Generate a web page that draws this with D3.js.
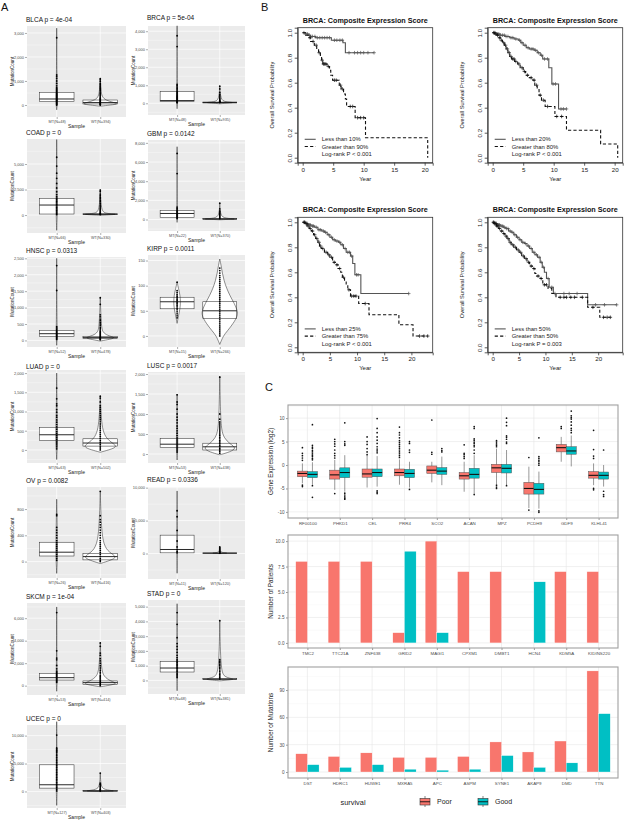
<!DOCTYPE html>
<html><head><meta charset="utf-8">
<script src="https://cdn.jsdelivr.net/npm/d3@7"></script>
<style>body{margin:0;background:#fff}svg{display:block;font-family:"Liberation Sans",Arial,sans-serif}</style>
</head><body><svg id="c" width="624" height="822"></svg>
<script>
// ---------------- Panel A data ----------------
const aCancers = ["BLCA","BRCA","COAD","GBM","HNSC","KIRP","LUAD","LUSC","OV","READ","SKCM","STAD","UCEC"];
const aPvals = ["4e-04","5e-04","0","0.0142","0.0313","0.0011","0","0.0017","0.0082","0.0336","1e-04","0","0"];
const aMtN = [48,48,66,22,52,15,63,53,26,11,53,68,127];
const aWtN = [394,935,330,370,478,266,502,438,416,120,414,381,403];
const aYTicks = [[0,1000,2000,3000],[0,1000,2000,3000,4000],[0,2500,5000],[0,2000,4000,6000,8000],
  [0,500,1000,1500,2000,2500],[0,50,100,150],[0,500,1000,1500,2000],[0,500,1000,1500,2000],
  [0,400,800],[0,5000,10000],[0,2000,4000,6000],[0,1000,2000,3000,4000,5000],[0,5000,10000]];
const aYDomain = [[-500,3290],[-650,4290],[-1760,7450],[-1200,8300],[-200,2540],[-22,161],[-340,2080],
  [-225,2050],[-250,1136],[-3870,10100],[-830,7350],[-920,5450],[-2960,11900]];
const aMtBox = [[137,250,530],[100,150,650],[100,980,1640],[200,630,930],[120,205,305],[54,68,77],[250,395,590],
  [160,245,390],[85,143,295],[100,610,2790],[500,710,1100],[570,840,1280],[600,1200,4770]];
const aWtBox = [[42,100,208],[20,40,70],[50,80,120],[30,60,100],[60,85,120],[35,50,68],[100,180,290],
  [100,180,270],[26,76,122],[20,50,90],[120,270,420],[50,90,140],[50,100,200]];
const aMtViolin = [
  [[-200,0],[0,0.03],[250,0.05],[600,0.03],[1500,0.01],[3200,0]],
  [[-300,0],[100,0.04],[500,0.03],[1500,0.01],[4300,0]],
  [[-1500,0],[0,0.03],[1000,0.04],[2500,0.02],[7400,0]],
  [[-300,0],[300,0.04],[900,0.03],[2000,0.01],[7600,0]],
  [[-150,0],[150,0.04],[400,0.02],[1500,0.005],[2500,0]],
  [[25,0],[40,0.08],[55,0.18],[68,0.2],[80,0.18],[95,0.08],[107,0]],
  [[-250,0],[150,0.04],[400,0.06],[800,0.03],[1500,0.01],[2000,0]],
  [[-150,0],[200,0.05],[500,0.03],[1500,0]],
  [[-180,0],[100,0.05],[300,0.04],[700,0.02],[950,0]],
  [[-3000,0],[0,0.03],[3000,0.02],[9500,0]],
  [[-500,0],[600,0.04],[2000,0.01],[7000,0]],
  [[-700,0],[800,0.04],[2000,0.015],[5200,0]],
  [[-2500,0],[500,0.03],[5000,0.02],[12500,0]]];
const aWtViolin = [
  [[-50,0],[0,0.6],[40,1.05],[100,0.8],[200,0.3],[350,0.1],[600,0.04],[1100,0]],
  [[-30,0],[20,0.5],[40,0.9],[80,0.3],[200,0.05],[950,0]],
  [[-30,0],[40,0.7],[80,1.0],[150,0.3],[400,0.05],[2500,0]],
  [[-30,0],[30,0.7],[60,1.0],[120,0.3],[400,0.03],[1700,0]],
  [[-20,0],[40,0.6],[85,0.9],[150,0.4],[250,0.15],[400,0.06],[1300,0]],
  [[-17,0],[0,0.2],[10,0.45],[25,0.8],[40,1.05],[50,1.05],[65,0.85],[80,0.6],[95,0.4],[110,0.25],[125,0.15],[140,0.08],[153,0]],
  [[-60,0],[0,0.5],[80,1.0],[180,0.7],[300,0.35],[500,0.15],[800,0.06],[1400,0]],
  [[-20,0],[50,0.6],[150,1.0],[250,0.6],[400,0.25],[600,0.1],[1000,0.04],[1950,0]],
  [[-30,0],[20,0.6],[70,1.0],[140,0.5],[250,0.2],[500,0.06],[1070,0]],
  [[-20,0],[30,0.3],[60,0.5],[150,0.1],[400,0.02],[1000,0]],
  [[-100,0],[50,0.6],[200,1.0],[400,0.6],[800,0.2],[1500,0.06],[3800,0]],
  [[-30,0],[40,0.6],[90,0.9],[200,0.3],[600,0.05],[4050,0]],
  [[-30,0],[50,0.6],[100,0.9],[300,0.2],[1000,0.03],[3300,0]]];
const aMtPts = [
  [2800,1250,1180,1100,1000,900,800,720,680,640,600,560,520,480,450,420,390,360,330,300,270,240,210,180,150,120,90,60,30,0],
  [3750,3150,1050,980,900,820,740,660,600,540,480,430,380,340,300,260,220,180,150,120,90,60,30],
  [5660,4800,4100,3600,3100,2650,2280,2000,1800,1650,1500,1350,1200,1050,900,750,600,450,300,150,50],
  [6900,4800,1300,1150,1000,900,800,700,600,500,400,300,200,100],
  [2280,1520,420,380,340,300,270,240,210,180,150,120,90,60,30],
  [107,90,86,82,79,76,73,70,67,64,61,58,55,52,48,44,40,36],
  [1610,1330,1200,1150,1050,980,900,850,780,720,660,600,540,480,430,380,330,280,230,180,130,80,30],
  [1480,1300,1240,1120,1000,920,850,780,700,640,580,520,460,400,350,300,250,200,150,100,50],
  [720,700,520,480,440,400,360,320,290,260,230,200,170,140,110,80,50,20],
  [6490,5580,3500,1900,1000,600,300,100],
  [6500,3100,2450,2300,1800,1500,1300,1200,1100,1000,900,800,700,600,500,400,300],
  [4600,3800,2900,2500,2300,2100,1900,1700,1550,1400,1300,1200,1100,1000,900,800,700,600,500,400,300,200],
  [10100,7800,7600,7400,7200,7000,6700,6400,6100,5800,5500,5200,4900,4600,4300,4000,3700,3400,3100,2800,2500,2200,1900,1600,1300,1000,700,400,100]];
const aWtPts = [
  [1100,1050,980,900,850,800,750,700,650,600,550,500,460,420,380,340,300,270,240,210,180,150,120,100,80,60,40,20,0],
  [950,800,600,500,420,360,300,250,200,150,120,100,80,60,40],
  [2450,2300,2050,1900,1750,1600,1450,1300,1150,1000,900,800,700,600,500,400,300,200,150,100,50],
  [1700,1100,900,800,700,600,500,400,300,200,100],
  [1300,1100,780,720,650,600,550,500,450,400,360,320,280,250,220,190,160,130,100,80,60,40,20],
  [135,130,125,120,116,112,108,104,100,96,92,88,84,80,76,72,68,64,60,56,52,48,44,40,36,32,28,24,20,16,12,8,4,0],
  [1400,1350,1250,1150,1100,1050,1000,950,900,850,800,750,700,650,600,550,500,450,400,350,300,250,200,150,100,50,0],
  [1920,1000,870,800,750,700,650,600,550,500,460,420,380,340,300,260,220,180,140,100,60,20],
  [1070,700,640,600,560,520,480,440,400,360,320,290,260,230,200,170,140,110,80,50,20,0],
  [1000,850,700,550,400,300,200,100,50],
  [3800,3500,2900,2700,2400,2200,2000,1800,1650,1500,1350,1200,1050,900,800,700,600,500,400,300,200,100,0],
  [4050,1400,1300,1200,1100,1000,900,800,700,600,500,400,300,200,100],
  [3300,1500,1300,1200,1000,800,600,400,300,200,100]];

// ---------------- Panel B data ----------------
const kmXmax = [20.5,20.5,23,23.7];
const kmSolidLabel = ["Less than 10%","Less than 20%","Less than 25%","Less than 50%"];
const kmDashLabel = ["Greater than 90%","Greater than 80%","Greater than 75%","Greater than 50%"];
const kmPText = ["Log-rank P < 0.001","Log-rank P < 0.001","Log-rank P < 0.001","Log-rank P = 0.003"];
const kmSolidSteps = [
  [[0.4,0.99],[0.9,0.98],[1.3,0.97],[2.1,0.96],[4.7,0.94],[6.6,0.92],[7.0,0.84]],
  [[0.5,0.99],[1.2,0.98],[2.0,0.97],[2.8,0.96],[3.5,0.95],[4.2,0.94],[4.6,0.92],[5.0,0.90],[5.5,0.88],[6.0,0.87],[6.8,0.86],[7.3,0.84],[7.8,0.82],[8.2,0.79],[9.2,0.72],[9.7,0.59],[10.8,0.39]],
  [[0.5,0.99],[1.0,0.98],[1.5,0.97],[2.2,0.96],[2.8,0.94],[3.5,0.93],[4.0,0.92],[4.5,0.90],[5.0,0.88],[5.5,0.86],[6.0,0.85],[6.6,0.84],[7.0,0.82],[7.5,0.79],[8.0,0.76],[8.8,0.73],[9.2,0.67],[9.6,0.58],[10.7,0.43]],
  [[0.3,0.99],[0.8,0.98],[1.4,0.97],[2.0,0.96],[2.5,0.95],[3.0,0.93],[3.5,0.92],[4.0,0.90],[4.5,0.88],[5.0,0.86],[5.5,0.84],[6.0,0.83],[6.5,0.81],[7.0,0.79],[7.5,0.76],[8.0,0.74],[8.5,0.72],[9.0,0.68],[9.4,0.64],[9.8,0.60],[10.2,0.55],[10.7,0.48],[11.5,0.43],[18.0,0.34]]];
const kmSolidEnd = [11.7,12.1,19.5,23.5];
const kmDashSteps = [
  [[0.5,0.98],[0.9,0.96],[1.3,0.93],[1.9,0.90],[2.3,0.87],[2.6,0.84],[2.9,0.81],[3.1,0.78],[3.3,0.75],[4.0,0.73],[4.4,0.70],[4.6,0.66],[4.9,0.62],[6.0,0.58],[6.3,0.55],[6.7,0.51],[7.0,0.47],[7.2,0.41],[8.6,0.32],[10.3,0.16],[20.5,0.0]],
  [[0.3,0.99],[0.7,0.98],[1.0,0.96],[1.3,0.94],[1.6,0.92],[1.9,0.90],[2.2,0.87],[2.5,0.84],[2.8,0.81],[3.1,0.79],[3.6,0.77],[4.1,0.75],[4.5,0.72],[5.0,0.69],[5.4,0.66],[6.0,0.64],[6.6,0.62],[6.9,0.58],[7.3,0.55],[7.6,0.50],[8.0,0.46],[8.6,0.41],[10.2,0.33],[12.1,0.22],[17.7,0.11],[20.5,0.0]],
  [[0.4,0.99],[0.8,0.97],[1.2,0.95],[1.6,0.93],[2.0,0.90],[2.4,0.87],[2.8,0.84],[3.1,0.81],[3.4,0.79],[4.0,0.76],[4.6,0.74],[5.0,0.72],[5.5,0.68],[6.0,0.66],[6.5,0.63],[7.0,0.60],[7.3,0.56],[7.7,0.53],[8.0,0.50],[8.3,0.46],[8.8,0.41],[10.3,0.35],[12.2,0.26],[17.7,0.18],[20.3,0.09]],
  [[0.3,0.99],[0.7,0.97],[1.1,0.95],[1.5,0.93],[1.9,0.91],[2.3,0.89],[2.7,0.87],[3.1,0.84],[3.5,0.82],[4.0,0.80],[4.5,0.78],[5.0,0.76],[5.5,0.73],[6.0,0.71],[6.5,0.68],[7.0,0.65],[7.5,0.63],[8.0,0.59],[8.3,0.57],[9.0,0.55],[9.5,0.50],[10.5,0.47],[11.2,0.43],[12.0,0.40],[18.0,0.32],[20.3,0.24]]];
const kmDashEnd = [20.5,20.5,23,22.3];
const kmSolidCens = [
  [0.2,0.5,0.8,1.1,1.6,2.0,2.4,2.8,3.2,3.6,4.0,4.4,5.2,5.6,6.1,6.5,7.6,8.5,9.0,9.5,10.0,10.7,11.7],
  [0.2,0.4,0.6,0.8,1.0,1.3,1.6,1.9,2.2,2.5,3.0,3.3,3.8,4.4,4.8,5.3,5.8,6.3,6.6,7.0,7.5,8.0,8.5,9.0,9.9,10.3,11.2,11.6,12.1],
  [0.2,0.4,0.7,0.9,1.2,1.4,1.8,2.0,2.5,3.0,3.3,3.8,4.2,4.8,5.3,5.8,6.3,6.8,7.3,7.8,8.3,8.6,9.0,9.9,10.2,19.5],
  [0.1,0.3,0.5,0.7,0.9,1.1,1.3,1.6,1.9,2.2,2.6,2.9,3.3,3.7,4.2,4.7,5.2,5.7,6.2,6.8,7.3,7.8,8.3,8.8,9.2,9.6,10.5,11.2,11.8,13.5,14.5,16.0,19.5,21.2,23.5]];
const kmDashCens = [
  [1.2,1.7,2.2,2.7,3.2,3.4,3.6,3.8,4.2,5.2,5.5,6.2,6.5,7.8,8.2,9.0,9.5,10.0],
  [0.2,0.5,0.8,1.1,1.4,1.8,2.1,2.4,2.7,3.0,3.3,3.5,3.8,4.3,4.8,5.2,5.7,6.3,6.8,7.2,7.8,8.3,9.0,10.5,11.3],
  [0.3,0.6,1.0,1.4,1.8,2.2,2.6,3.0,3.3,3.7,4.3,4.8,5.3,5.8,6.3,6.8,7.5,8.5,9.0,9.4,9.8,11.5,21.5,22.3,23.0],
  [0.2,0.4,0.6,0.8,1.0,1.3,1.7,2.1,2.5,2.9,3.3,3.8,4.3,4.8,5.3,5.8,6.3,6.8,7.3,7.8,8.6,9.2,9.8,10.2,12.8,13.5,14.0,14.8,15.5,17.0,19.0,21.0,21.7,22.3]];
const kmYTicks = [0,0.2,0.4,0.6,0.8,1.0];
const kmXTicks = [0,5,10,15,20];

// ---------------- Panel C data ----------------
const genesC1 = ["RF00100","PHKD1","CEL","PRR4","SCO2","ACAN","MPZ","PCDH9","GDF9","KLHL41"];
const c1Ticks = [-10,-5,0,5,10];
// [lowWhisker, q1, median, q3, highWhisker]
const c1PoorBox = [[-3.9,-2.5,-1.8,-1.3,0.35],[-5.3,-3.0,-2.1,-1.1,1.1],[-4.8,-2.6,-1.9,-0.85,2.0],[-4.2,-2.3,-1.6,-0.85,1.2],
  [-3.7,-1.8,-1.1,-0.2,0.7],[-5.7,-3.0,-2.3,-1.6,0.7],[-4.1,-1.6,-0.6,0.15,3.5],[-9.2,-6.2,-5.0,-3.7,-0.35],[0.7,2.8,3.7,4.4,6.0],[-4.3,-2.8,-2.2,-1.4,0.35]];
const c1GoodBox = [[-4.2,-2.7,-2.0,-1.4,0.6],[-5.7,-2.7,-1.6,-0.6,2.1],[-4.6,-2.5,-1.6,-0.85,1.9],[-4.8,-2.7,-1.8,-0.9,0.7],
  [-4.3,-2.0,-1.3,-0.55,1.8],[-6.2,-2.8,-2.0,-0.7,2.1],[-4.3,-1.7,-0.7,0.15,3.2],[-9.3,-6.2,-5.2,-3.9,-1.4],[-0.3,2.3,3.0,3.9,6.3],[-4.6,-3.0,-2.2,-1.5,0.0]];
const c1PoorOut = [[3.7,2.5,2.0,1.5,1.0,-4.3,-4.6],[5.5,5.0,4.5,4.0,3.2,2.5,2.0,1.5,-6.1],[6.0,5.0,4.4,3.5,2.8,2.2],
  [8.1,6.9,6.4,5.8,5.2,4.8,4.4,4.0,3.6,3.2,2.8,2.4,2.0,1.6],[9.6,2.7,2.3],[4.3,2.5,2.2,1.8,1.4],[5.2,4.9,4.5,4.2,3.9,-4.3,-4.7,-5.0],
  [1.6,-9.6],[8.2,7.8],[7.4,3.3,1.9,1.4,-5.0,-5.3]];
const c1GoodOut = [[8.6,4.2,3.8,3.5,3.1,2.8,2.4,2.1,1.8,1.4,1.1,-4.4,-6.9],[9.0,5.0,4.5,4.2,-6.0,-6.4,-6.8,-7.1,-7.3],
  [9.9,7.8,6.9,6.0,5.3,4.6,3.9,3.4,3.0,2.6,-5.5,-5.8,-6.1],[5.0,4.6,3.2,2.7,-5.2],[3.5,3.1,2.8],
  [8.2,7.8,5.6,5.3,4.9,4.6,4.2,3.9,3.2,2.5,-6.3],[10.0,9.1,8.4,6.2,5.9,5.5,4.9,4.6,-4.4],
  [5.8,1.8,1.4,1.0,0.7,0.3,-0.05,-9.8,-10.1],[11.5,10.5,10.1,9.8,9.2,8.5,7.8,7.4,6.9],[3.2,-5.6,-6.3,-6.7]];
const genesC2 = ["TMC2","TTC21A","ZNF638","GRID2","MAGI1","CPXM1","DMBT1","HCN4","KDM5A","KIDINS220"];
const c2Poor = [8,8,8,1,10,7,7,0,7,7];
const c2Good = [0,0,0,9,1,0,0,6,0,0];
const c2Ticks = [0,2.5,5,7.5,10];
const genesC3 = ["DST","HDRC1","HUWE1","MXRA5","APC","ASPM","SYNE1","AKAP9","DMD","TTN"];
const c3Poor = [20,17,21,16,16,17,33,22,34,111];
const c3Good = [8,5,8,3,2,3,18,5,10,64];
const c3Ticks = [0,30,60,90];
const survivalLevels = ["Poor","Good"];
const survivalColors = ["#F8766D","#00BFC4"];

// ---------------- Drawing ----------------
const svg = d3.select("#c");
const letter = (t,x,y)=>svg.append("text").attr("x",x).attr("y",y).attr("font-size",11).attr("fill","#111").text(t);
letter("A",1,11); letter("B",261,11); letter("C",265,391);

// ---- Panel A ----
const titleYs = [19,17,132,133,250,248,366,365,480,479,596,593,718];
const panelTops = [26,26,139,140,257,255,370,372,487,487,603,600,725];
const panelBottoms = [117,115,233,231,347,347,463,463,578,579,695,694,808];
aCancers.forEach((name,i)=>{
  const col = i%2;
  const x0 = col?148:27, x1 = col?245:126, W = x1-x0;
  const ty = titleYs[i], y0 = panelTops[i], y1 = panelBottoms[i];
  const g = svg.append("g");
  const y = d3.scaleLinear().domain(aYDomain[i]).range([y1,y0]);
  const x = d3.scalePoint().domain(["MT","WT"]).range([x0+0.3*W, x0+0.74*W]);
  g.append("rect").attr("x",x0).attr("y",y0).attr("width",W).attr("height",y1-y0).attr("fill","#EBEBEB");
  const t = aYTicks[i], st = t[1]-t[0];
  const minors = [];
  for(let k=-1;k<t.length+1;k++){const v=t[0]+st*(k+0.5); if(v>aYDomain[i][0]&&v<aYDomain[i][1]) minors.push(v);}
  g.selectAll(".mn").data(minors).join("line").attr("x1",x0).attr("x2",x1).attr("y1",d=>y(d)).attr("y2",d=>y(d)).attr("stroke","#fff").attr("stroke-width",0.35);
  g.selectAll(".mj").data(t.filter(v=>v<=aYDomain[i][1])).join("line").attr("x1",x0).attr("x2",x1).attr("y1",d=>y(d)).attr("y2",d=>y(d)).attr("stroke","#fff").attr("stroke-width",0.7);
  g.selectAll(".vx").data(["MT","WT"]).join("line").attr("x1",d=>x(d)).attr("x2",d=>x(d)).attr("y1",y0).attr("y2",y1).attr("stroke","#fff").attr("stroke-width",0.7);
  const bw = 0.35*W, hw = bw/2;
  const groups = [["MT",aMtBox[i],aMtViolin[i],aMtPts[i]],["WT",aWtBox[i],aWtViolin[i],aWtPts[i]]];
  groups.forEach(([k,box,vio,pts])=>{
    const cx = x(k);
    g.append("rect").attr("x",cx-hw).attr("y",y(box[2])).attr("width",bw).attr("height",y(box[0])-y(box[2])).attr("fill","#fff");
    const area = d3.area().curve(d3.curveBasis).y(d=>y(d[0])).x0(d=>cx-d[1]*hw).x1(d=>cx+d[1]*hw);
    g.append("path").attr("d",area(vio)).attr("fill","#fff").attr("stroke","#222").attr("stroke-width",0.5);
    g.append("rect").attr("x",cx-hw).attr("y",y(box[2])).attr("width",bw).attr("height",y(box[0])-y(box[2])).attr("fill","none").attr("stroke","#222").attr("stroke-width",0.5);
    g.append("line").attr("x1",cx-hw).attr("x2",cx+hw).attr("y1",y(box[1])).attr("y2",y(box[1])).attr("stroke","#111").attr("stroke-width",0.9);
    g.selectAll(null).data(pts).join("circle").attr("cx",cx).attr("cy",d=>y(d)).attr("r",0.9).attr("fill","#000");
  });
  const ax = d3.axisLeft(y).tickValues(t.filter(v=>v<=aYDomain[i][1])).tickSize(2).tickPadding(1);
  const ag = g.append("g").attr("transform",`translate(${x0},0)`).call(ax);
  ag.select(".domain").remove();
  ag.selectAll("line").attr("stroke","#333").attr("stroke-width",0.4);
  ag.selectAll("text").attr("font-size",4).attr("fill","#4D4D4D").attr("font-family","Liberation Sans, Arial");
  const bx = d3.axisBottom(x).tickSize(2).tickPadding(1).tickFormat(d=>d==="MT"?`MT(N=${aMtN[i]})`:`WT(N=${aWtN[i]})`);
  const bg = g.append("g").attr("transform",`translate(0,${y1})`).call(bx);
  bg.select(".domain").remove();
  bg.selectAll("line").attr("stroke","#333").attr("stroke-width",0.4);
  bg.selectAll("text").attr("font-size",3.8).attr("fill","#4D4D4D").attr("font-family","Liberation Sans, Arial");
  g.append("text").attr("x",(x0+x1)/2).attr("y",y1+11).attr("text-anchor","middle").attr("font-size",5).attr("fill","#222").text("Sample");
  g.append("text").attr("transform",`translate(${x0-13},${(y0+y1)/2}) rotate(-90)`).attr("text-anchor","middle").attr("font-size",4.5).attr("fill","#222").text("MutationCount");
  g.append("text").attr("x",x0-1).attr("y",ty+2.5).attr("font-size",6.5).attr("fill","#111").text(`${name} p = ${aPvals[i]}`);
});

// ---- Panel B ----
const kmBoxX = [297.7,487.7,297.7,487.7], kmBoxY = [27.7,27.7,217.3,217.3];
function survAt(steps,t){let s=1;for(const [tt,v] of steps){if(tt<=t)s=v;}return s;}
for(let k=0;k<4;k++){
  const bx = kmBoxX[k], by = kmBoxY[k], bw=135, bh=135;
  const xm = kmXmax[k];
  const x = d3.scaleLinear().domain([-0.04*xm,1.04*xm]).range([bx,bx+bw]);
  const y = d3.scaleLinear().domain([-0.04,1.04]).range([by+bh,by]);
  const g = svg.append("g");
  g.append("rect").attr("x",bx).attr("y",by).attr("width",bw).attr("height",bh).attr("fill","none").attr("stroke","#333").attr("stroke-width",0.8);
  const ya = g.append("g").attr("transform",`translate(${bx},0)`).call(d3.axisLeft(y).tickValues(kmYTicks).tickSize(3).tickFormat(d3.format(".1f")));
  ya.select(".domain").attr("stroke","#333").attr("stroke-width",0.8);
  ya.selectAll("line").attr("stroke","#333").attr("stroke-width",0.8);
  ya.selectAll("text").attr("transform","rotate(-90)").attr("x",0).attr("y",-5.5).attr("dy",0).attr("text-anchor","middle").attr("font-size",6.2).attr("fill","#222");
  const xa = g.append("g").attr("transform",`translate(0,${by+bh})`).call(d3.axisBottom(x).tickValues(kmXTicks).tickSize(3).tickPadding(1.5));
  xa.select(".domain").attr("stroke","#333").attr("stroke-width",0.8);
  xa.selectAll("line").attr("stroke","#333").attr("stroke-width",0.8);
  xa.selectAll("text").attr("font-size",6.2).attr("fill","#222");
  g.append("text").attr("x",bx+bw/2).attr("y",by-5).attr("text-anchor","middle").attr("font-size",7.2).attr("font-weight","bold").attr("fill","#111").text("BRCA: Composite Expression Score");
  g.append("text").attr("x",bx+bw/2).attr("y",by+bh+18).attr("text-anchor","middle").attr("font-size",6).attr("fill","#222").text("Year");
  g.append("text").attr("transform",`translate(${bx-24},${by+bh/2}) rotate(-90)`).attr("text-anchor","middle").attr("font-size",5.6).attr("fill","#222").text("Overall Survival Probability");
  const line = d3.line().curve(d3.curveStepAfter).x(d=>x(d[0])).y(d=>y(d[1]));
  const curves = [[kmSolidSteps[k],kmSolidEnd[k],kmSolidCens[k],"#555",null],[kmDashSteps[k],kmDashEnd[k],kmDashCens[k],"#111","3.2,2.2"]];
  curves.forEach(([steps,end,cens,col,dash])=>{
    const pts=[[0,1],...steps];
    const last = pts[pts.length-1];
    if(last[0]<end) pts.push([end,last[1]]);
    const p = g.append("path").attr("d",line(pts)).attr("fill","none").attr("stroke",col).attr("stroke-width",1.1);
    if(dash) p.attr("stroke-dasharray",dash);
    cens.forEach(t=>{
      const cx=x(t), cy=y(survAt(steps,t));
      g.append("path").attr("d",`M${cx-1.8},${cy}H${cx+1.8}M${cx},${cy-1.8}V${cy+1.8}`).attr("stroke",col).attr("stroke-width",0.7);
    });
  });
  const ly = by+bh;
  g.append("line").attr("x1",bx+7).attr("x2",bx+18).attr("y1",ly-23.4).attr("y2",ly-23.4).attr("stroke","#555").attr("stroke-width",1.1);
  g.append("line").attr("x1",bx+7).attr("x2",bx+18).attr("y1",ly-16.2).attr("y2",ly-16.2).attr("stroke","#111").attr("stroke-width",1.1).attr("stroke-dasharray","3.2,2.2");
  [[kmSolidLabel[k],-23.4],[kmDashLabel[k],-16.2],[kmPText[k],-8.6]].forEach(([s,dy])=>{
    g.append("text").attr("x",bx+24).attr("y",ly+dy+2.1).attr("font-size",5.9).attr("fill","#222").text(s);
  });
}

// ---- Panel C ----
const C_X0 = 288, C_X1 = 618;
function cPanel(y0,y1,domain,ticks,genes,ylab){
  const g = svg.append("g");
  const x = d3.scalePoint().domain(genes).range([C_X0,C_X1]).padding(0.6);
  const y = d3.scaleLinear().domain(domain).range([y1,y0]);
  g.append("rect").attr("x",C_X0).attr("y",y0).attr("width",C_X1-C_X0).attr("height",y1-y0).attr("fill","#fff");
  const st = ticks[1]-ticks[0]; const minors=[];
  for(let k=-1;k<ticks.length+1;k++){const v=ticks[0]+st*(k+0.5); if(v>domain[0]&&v<domain[1]) minors.push(v);}
  g.selectAll(null).data(minors).join("line").attr("x1",C_X0).attr("x2",C_X1).attr("y1",d=>y(d)).attr("y2",d=>y(d)).attr("stroke","#F2F2F2").attr("stroke-width",0.4);
  g.selectAll(null).data(ticks).join("line").attr("x1",C_X0).attr("x2",C_X1).attr("y1",d=>y(d)).attr("y2",d=>y(d)).attr("stroke","#E6E6E6").attr("stroke-width",0.6);
  g.selectAll(null).data(genes).join("line").attr("x1",d=>x(d)).attr("x2",d=>x(d)).attr("y1",y0).attr("y2",y1).attr("stroke","#E6E6E6").attr("stroke-width",0.6);
  const ya = g.append("g").attr("transform",`translate(${C_X0},0)`).call(d3.axisLeft(y).tickValues(ticks).tickSize(2).tickPadding(1.5).tickFormat(d=>ticks.includes(2.5)?d3.format(".1f")(d):d));
  ya.select(".domain").remove(); ya.selectAll("line").attr("stroke","#333").attr("stroke-width",0.5);
  ya.selectAll("text").attr("font-size",4.6).attr("fill","#4D4D4D");
  const xa = g.append("g").attr("transform",`translate(0,${y1})`).call(d3.axisBottom(x).tickSize(2).tickPadding(2));
  xa.select(".domain").remove(); xa.selectAll("line").attr("stroke","#333").attr("stroke-width",0.5);
  xa.selectAll("text").attr("font-size",4.4).attr("fill","#4D4D4D");
  g.append("text").attr("transform",`translate(${C_X0-15},${(y0+y1)/2}) rotate(-90)`).attr("text-anchor","middle").attr("font-size",6.4).attr("fill","#222").text(ylab);
  return {g,x,y,y0,y1};
}
function cBorder(p){p.g.append("rect").attr("x",C_X0).attr("y",p.y0).attr("width",C_X1-C_X0).attr("height",p.y1-p.y0).attr("fill","none").attr("stroke","#A0A0A0").attr("stroke-width",1.1);}

// C1 boxplots
{
  const p = cPanel(405,518,[-11.3,12.8],c1Ticks,genesC1,"Gene Expression (log2)");
  const step = p.x.step(), bw = 0.31*step;
  genesC1.forEach((gname,i)=>{
    [[c1PoorBox[i],c1PoorOut[i],-1,survivalColors[0]],[c1GoodBox[i],c1GoodOut[i],1,survivalColors[1]]].forEach(([b,out,side,col])=>{
      const cx = p.x(gname)+side*bw/2;
      p.g.append("line").attr("x1",cx).attr("x2",cx).attr("y1",p.y(b[0])).attr("y2",p.y(b[4])).attr("stroke","#333").attr("stroke-width",0.5);
      p.g.append("rect").attr("x",cx-bw/2).attr("y",p.y(b[3])).attr("width",bw).attr("height",p.y(b[1])-p.y(b[3])).attr("fill",col).attr("stroke","#555").attr("stroke-width",0.5);
      p.g.append("line").attr("x1",cx-bw/2).attr("x2",cx+bw/2).attr("y1",p.y(b[2])).attr("y2",p.y(b[2])).attr("stroke","#111").attr("stroke-width",1.1);
      p.g.selectAll(null).data(out).join("circle").attr("cx",cx).attr("cy",d=>p.y(d)).attr("r",0.85).attr("fill","#111");
    });
  });
  cBorder(p);
}
// C2 bars
{
  const p = cPanel(535,648,[-0.5,10.6],c2Ticks,genesC2,"Number of Patients");
  const bw = 0.36*p.x.step();
  genesC2.forEach((gname,i)=>{
    [[c2Poor[i],-1,survivalColors[0]],[c2Good[i],0,survivalColors[1]]].forEach(([v,side,col])=>{
      if(v<=0) return;
      p.g.append("rect").attr("x",p.x(gname)+side*bw).attr("y",p.y(v)).attr("width",bw).attr("height",p.y(0)-p.y(v)).attr("fill",col).attr("stroke","#fff").attr("stroke-width",0.3);
    });
  });
  cBorder(p);
}
// C3 bars
{
  const p = cPanel(667,778,[-6.6,115.3],c3Ticks,genesC3,"Number of Mutations");
  const bw = 0.36*p.x.step();
  genesC3.forEach((gname,i)=>{
    [[c3Poor[i],-1,survivalColors[0]],[c3Good[i],0,survivalColors[1]]].forEach(([v,side,col])=>{
      p.g.append("rect").attr("x",p.x(gname)+side*bw).attr("y",p.y(v)).attr("width",bw).attr("height",p.y(0)-p.y(v)).attr("fill",col).attr("stroke","#fff").attr("stroke-width",0.3);
    });
  });
  cBorder(p);
}
// Legend
{
  const lg = svg.append("g");
  lg.append("text").attr("x",353).attr("y",805).attr("text-anchor","middle").attr("font-size",7.4).attr("fill","#222").text("survival");
  const keyX = [419,477], labX = [437,495];
  survivalLevels.forEach((s,i)=>{
    const kx = keyX[i], ky = 797;
    lg.append("line").attr("x1",kx+6).attr("x2",kx+6).attr("y1",ky-1).attr("y2",ky+10).attr("stroke","#333").attr("stroke-width",0.6);
    lg.append("rect").attr("x",kx+1).attr("y",ky+1.5).attr("width",10).attr("height",6.5).attr("fill",survivalColors[i]).attr("stroke","#333").attr("stroke-width",0.6);
    lg.append("line").attr("x1",kx+1).attr("x2",kx+11).attr("y1",ky+4.75).attr("y2",ky+4.75).attr("stroke","#111").attr("stroke-width",0.9);
    lg.append("text").attr("x",labX[i]).attr("y",ky+7.3).attr("font-size",7).attr("fill","#222").text(s);
  });
}
</script></body></html>
